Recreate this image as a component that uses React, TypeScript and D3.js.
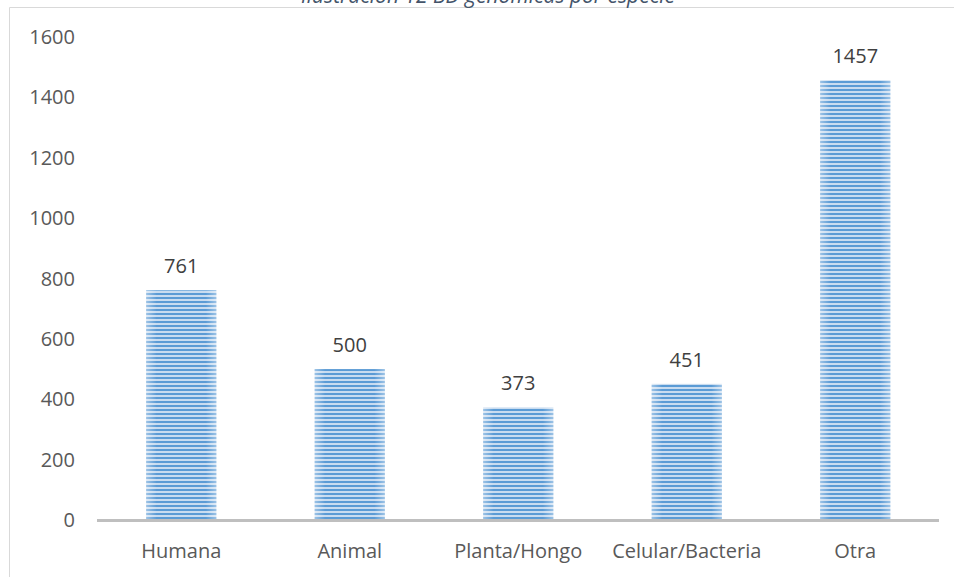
import React, { useEffect, useRef } from "react";
import * as d3 from "d3";

const categories = ["Humana", "Animal", "Planta/Hongo", "Celular/Bacteria", "Otra"];
const values = [761, 500, 373, 451, 1457];
const yTicks = [0, 200, 400, 600, 800, 1000, 1200, 1400, 1600];
const title = "Ilustración 12 BD genómicas por especie";

const W = 954;
const H = 577;
const margin = { left: 97, right: 15, top: 37, bottom: 57 };
const FONT = "'Open Sans', 'Noto Sans', sans-serif";
const FS = 20;

export default function App() {
  const ref = useRef<SVGSVGElement>(null);

  useEffect(() => {
    const svg = d3.select(ref.current);
    svg.selectAll("*").remove();

    const x = d3
      .scaleBand<string>()
      .domain(categories)
      .range([margin.left, W - margin.right + 0.5])
      .paddingInner(0.584)
      .paddingOuter(0.292);
    const y = d3.scaleLinear().domain([0, 1600]).range([H - margin.bottom, margin.top]);

    const defs = svg.append("defs");
    const pat = defs
      .append("pattern")
      .attr("id", "stripes")
      .attr("patternUnits", "userSpaceOnUse")
      .attr("width", 8)
      .attr("height", 4);
    pat.append("rect").attr("width", 8).attr("height", 4).attr("fill", "#c9dcf0");
    pat.append("rect").attr("y", 1).attr("width", 8).attr("height", 2).attr("fill", "#5b9bd5");

    const grad = defs
      .append("linearGradient")
      .attr("id", "edgeFade")
      .attr("x1", "0")
      .attr("x2", "1")
      .attr("y1", "0")
      .attr("y2", "0");
    grad.append("stop").attr("offset", "0").attr("stop-color", "#ffffff").attr("stop-opacity", 0.4);
    grad.append("stop").attr("offset", "0.15").attr("stop-color", "#ffffff").attr("stop-opacity", 0);
    grad.append("stop").attr("offset", "0.85").attr("stop-color", "#ffffff").attr("stop-opacity", 0);
    grad.append("stop").attr("offset", "1").attr("stop-color", "#ffffff").attr("stop-opacity", 0.4);

    // chart frame (top and left edges)
    svg
      .append("path")
      .attr("d", `M9.5,${H} V7.5 H${W}`)
      .attr("fill", "none")
      .attr("stroke", "#d9d9d9")
      .attr("stroke-width", 1);

    // title, sitting on the top edge of the frame
    svg
      .append("text")
      .attr("x", 488)
      .attr("y", 3)
      .attr("text-anchor", "middle")
      .attr("font-family", FONT)
      .attr("font-style", "italic")
      .attr("font-size", 21)
      .attr("fill", "#44546a")
      .text(title);

    // y tick labels
    svg
      .append("g")
      .selectAll("text")
      .data(yTicks)
      .join("text")
      .attr("x", 75)
      .attr("y", (d) => y(d))
      .attr("dy", "0.35em")
      .attr("text-anchor", "end")
      .attr("font-family", FONT)
      .attr("font-size", FS)
      .attr("fill", "#595959")
      .text((d) => String(d));

    const bars = svg.append("g");
    bars
      .selectAll("rect.bar")
      .data(values)
      .join("rect")
      .attr("class", "bar")
      .attr("x", (_, i) => x(categories[i])!)
      .attr("y", (d) => y(d))
      .attr("width", x.bandwidth())
      .attr("height", (d) => y(0) - y(d))
      .attr("fill", "url(#stripes)");
    bars
      .selectAll("rect.fade")
      .data(values)
      .join("rect")
      .attr("class", "fade")
      .attr("x", (_, i) => x(categories[i])!)
      .attr("y", (d) => y(d))
      .attr("width", x.bandwidth())
      .attr("height", (d) => y(0) - y(d))
      .attr("fill", "url(#edgeFade)");

    // value labels
    svg
      .append("g")
      .selectAll("text")
      .data(values)
      .join("text")
      .attr("x", (_, i) => x(categories[i])! + x.bandwidth() / 2)
      .attr("y", (d) => y(d) - 17)
      .attr("text-anchor", "middle")
      .attr("font-family", FONT)
      .attr("font-size", FS)
      .attr("fill", "#404040")
      .text((d) => String(d));

    // category axis line
    svg
      .append("line")
      .attr("x1", margin.left)
      .attr("x2", W - margin.right)
      .attr("y1", y(0) + 0.5)
      .attr("y2", y(0) + 0.5)
      .attr("stroke", "#bfbfbf")
      .attr("stroke-width", 3);

    // category labels
    svg
      .append("g")
      .selectAll("text")
      .data(categories)
      .join("text")
      .attr("x", (d) => x(d)! + x.bandwidth() / 2)
      .attr("y", 551)
      .attr("dy", "0.35em")
      .attr("text-anchor", "middle")
      .attr("font-family", FONT)
      .attr("font-size", FS)
      .attr("fill", "#595959")
      .text((d) => d);
  }, []);

  return (
    <svg
      ref={ref}
      width={W}
      height={H}
      style={{ position: "absolute", left: 0, top: 0, background: "#ffffff" }}
    />
  );
}
